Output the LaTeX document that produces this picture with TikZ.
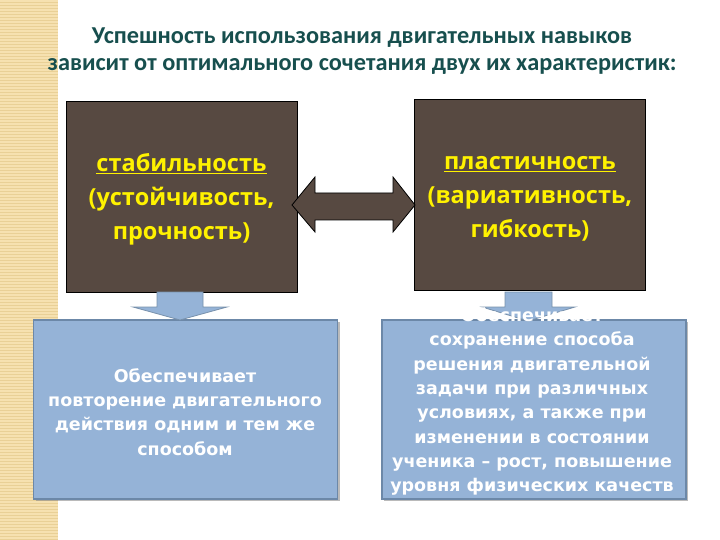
\documentclass[tikz,border=0pt]{standalone}
\usepackage{fontspec}
\setmainfont{Carlito}
\newfontfamily\boxfont{Open Sans}
\newfontfamily\bluefont{DejaVu Sans}
\usetikzlibrary{shadows,calc}
\definecolor{titlecol}{RGB}{23,79,78}
\definecolor{brownbox}{RGB}{87,73,65}
\definecolor{bluefill}{RGB}{149,179,215}
\definecolor{blueline}{RGB}{108,136,168}
\definecolor{arrowline}{RGB}{120,145,172}
\definecolor{stripe}{RGB}{246,225,176}
\definecolor{stripeline}{RGB}{233,208,150}
\tikzset{
  brownnode/.style={draw=black, line width=0.8pt, fill=brownbox, minimum width=231pt, minimum height=191pt, inner sep=0pt},
  bluenode/.style={draw=blueline, line width=1.5pt, fill=bluefill, minimum width=304pt, minimum height=179pt, inner sep=0pt,
    drop shadow={shadow xshift=2pt, shadow yshift=-2pt, fill=black!45, opacity=0.6}},
  yellowtext/.style={text=yellow, align=center, font=\boxfont\bfseries\fontsize{23.5}{34}\selectfont},
  whitetext/.style={text=white, align=center, font=\bluefont\bfseries\fontsize{17.5}{24.3}\selectfont},
  brownarrow/.style={draw=black, line width=0.8pt, fill=brownbox, line join=miter},
  bluearrow/.style={draw=arrowline, line width=0.8pt, fill=bluefill, line join=miter}
}
\begin{document}
\begin{tikzpicture}[x=1pt,y=-1pt]
\useasboundingbox (0,0) rectangle (720,540);
\fill[white] (0,0) rectangle (720,540);
% left decorative stripe
\fill[stripe] (0,0) rectangle (58,540);
\foreach \yy in {2,5,...,539} { \draw[stripeline, line width=0.6pt] (0,\yy) -- (58,\yy); }
% title
\node[text=titlecol, align=center, font=\bfseries\fontsize{24.3}{27}\selectfont] (title) at (362,51)
  {Успешность использования двигательных навыков\\зависит от оптимального сочетания двух их характеристик:};
% brown boxes
\node[brownnode] (stab) at (181.5,196.5) {};
\node[brownnode] (plast) at (530,195) {};
\node[yellowtext] (stabt) at ($(stab.center)+(0,3)$) {\underline{стабильность}\\(устойчивость,\\прочность)};
\node[yellowtext] (plastt) at ($(plast.center)+(0,4)$) {\underline{пластичность}\\(вариативность,\\гибкость)};
% double arrow between boxes
\coordinate (dl) at (292,205);
\coordinate (dr) at (415,205);
\draw[brownarrow] (dl) -- (315,177) -- (315,193) -- (393,193) -- (393,177) -- (dr)
  -- (393,232) -- (393,220) -- (315,220) -- (315,232) -- cycle;
% blue boxes
\node[bluenode] (left) at (185.5,409.5) {};
\node[bluenode] (right) at (534,409.5) {};
% down arrows
\draw[bluearrow] (157,292) -- (203,292) -- (203,307) -- (227,307) -- (180,320) -- (133,307) -- (157,307) -- cycle;
\draw[bluearrow] (505,292) -- (552,292) -- (552,307) -- (575,307) -- (528,321) -- (482,307) -- (505,307) -- cycle;
% blue texts
\node[whitetext] (leftt) at (185,412) {Обеспечивает\\повторение двигательного\\действия одним и тем же\\способом};
\node[whitetext] (rightt) at (532,413) {Обеспечивает\\сохранение способа\\решения двигательной\\задачи при различных\\условиях, а также при\\изменении в состоянии\\ученика – рост, повышение\\уровня физических качеств\\и т.д.};
\end{tikzpicture}
\end{document}
